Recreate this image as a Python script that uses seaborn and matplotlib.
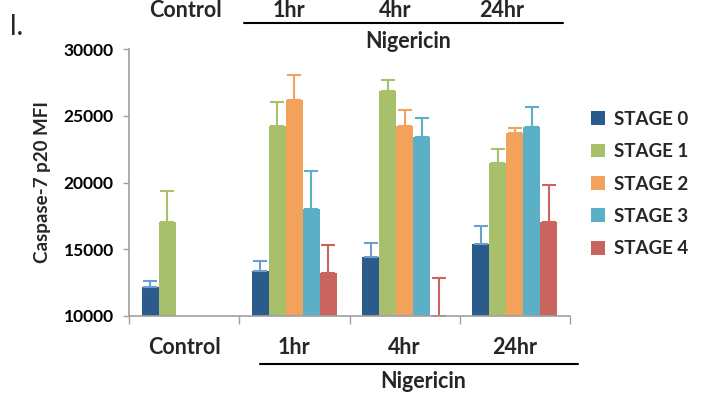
import numpy as np
import pandas as pd
import matplotlib
matplotlib.use("Agg")
import matplotlib.pyplot as plt
from matplotlib.lines import Line2D
import seaborn as sns

# Caspase-7 p20 MFI by treatment group and stage
groups = ["Control", "1hr", "4hr", "24hr"]
stages = ["STAGE 0", "STAGE 1", "STAGE 2", "STAGE 3", "STAGE 4"]

stage0 = [12150, 13370, 14400, 15370]
stage1 = [17060, 24210, 26850, 21440]
stage2 = [np.nan, 26180, 24230, 23680]
stage3 = [np.nan, 18040, 23380, 24180]
stage4 = [np.nan, 13200, 10000, 17020]

err0 = [500, 770, 1090, 1350]
err1 = [2300, 1820, 830, 1070]
err2 = [np.nan, 1850, 1230, 400]
err3 = [np.nan, 2820, 1450, 1500]
err4 = [np.nan, 2120, 2850, 2790]

yticks = [10000, 15000, 20000, 25000, 30000]

bar_colors = ["#2B5B8A", "#A8BF6C", "#F2A25B", "#5BB0C7", "#C9645E"]
err_colors = ["#6C9FD0", "#A8BF6C", "#F2A25B", "#5BB0C7", "#C9645E"]

values = [stage0, stage1, stage2, stage3, stage4]
errors = [err0, err1, err2, err3, err4]

rows = []
for s, vals, errs in zip(stages, values, errors):
    for g, v, e in zip(groups, vals, errs):
        rows.append({"group": g, "stage": s, "mfi": v, "err": e})
df = pd.DataFrame(rows)

sns.set_theme(style="white")
plt.rcParams["font.family"] = ["Lato", "DejaVu Sans"]
plt.rcParams["font.weight"] = "bold"

W, H = 707, 394
fig = plt.figure(figsize=(W / 100, H / 100), dpi=100)
ax = fig.add_axes([129 / W, 1 - 316 / H, (570 - 129) / W, (316 - 49) / H])

sns.barplot(data=df, x="group", y="mfi", hue="stage", order=groups,
            hue_order=stages, palette=bar_colors, width=0.77,
            errorbar=None, saturation=1, ax=ax, linewidth=0)

# upward-only error bars, centred on each drawn bar
for i, s in enumerate(stages):
    cont = ax.containers[i]
    sub = df[df.stage == s].set_index("group")
    xs, ys, es = [], [], []
    for patch in cont.patches:
        cx = patch.get_x() + patch.get_width() / 2
        g = groups[int(round(cx))]
        v, e = sub.loc[g, "mfi"], sub.loc[g, "err"]
        if np.isnan(v) or np.isnan(e):
            continue
        xs.append(cx)
        ys.append(v)
        es.append(e)
    es = np.array(es)
    ax.errorbar(xs, ys, yerr=[np.zeros_like(es), es], fmt="none",
                ecolor=err_colors[i], elinewidth=1.5, capsize=5,
                capthick=1.5, zorder=1)

ax.set_ylim(10000, 30000)
ax.set_xlim(-0.5, 3.5)
ax.set_yticks(yticks)
ax.set_yticklabels([str(t) for t in yticks], fontsize=12.5, fontweight="bold")
ax.set_xticks([-0.5, 0.5, 1.5, 2.5, 3.5])
ax.set_xticklabels([])
ax.tick_params(axis="y", left=True, length=4, width=1, color="#A0A0A0",
               pad=7, labelcolor="black")
ax.tick_params(axis="x", bottom=True, length=6, width=1, color="#A0A0A0")
for side in ["top", "right"]:
    ax.spines[side].set_visible(False)
for side in ["left", "bottom"]:
    ax.spines[side].set_color("#A0A0A0")
    ax.spines[side].set_linewidth(1.2)

ax.set_xlabel("")
ax.set_ylabel("Caspase-7 p20 MFI", fontsize=13.5, fontweight="bold")
ax.yaxis.set_label_coords((51 - 129) / 441, 0.5)

# group labels below the axis
for k, g in enumerate(groups):
    ax.text(k, -(348 - 316) / 267, g, transform=ax.get_xaxis_transform(),
            ha="center", va="center", fontsize=15.5, fontweight="bold")

def fx(px):
    return px / W

def fy(py):
    return 1 - py / H

fig.add_artist(Line2D([fx(260), fx(578)], [fy(364), fy(364)],
                      color="black", lw=1.5))
fig.text(fx(423), fy(382), "Nigericin", ha="center", va="center",
         fontsize=15.5, fontweight="bold")

# repeated header at the top of the panel
for x, g in zip([185, 289, 395, 502], groups):
    fig.text(fx(x), fy(0), g, ha="center", va="top", fontsize=15.5,
             fontweight="bold")
fig.add_artist(Line2D([fx(244), fx(563)], [fy(23), fy(23)],
                      color="black", lw=1.5))
fig.text(fx(408), fy(41), "Nigericin", ha="center", va="center",
         fontsize=15.5, fontweight="bold")
fig.text(fx(17), fy(27), "l.", ha="center", va="center", fontsize=20,
         fontweight="normal")

leg = ax.legend(loc="center left", bbox_to_anchor=(fx(591), fy(184)),
                bbox_transform=fig.transFigure, frameon=False,
                handlelength=0.75, handleheight=0.75, handletextpad=0.45,
                labelspacing=0.82, borderpad=0, borderaxespad=0,
                prop={"size": 13.5, "weight": "bold"}, title=None)

fig.savefig("out.png", dpi=100)
